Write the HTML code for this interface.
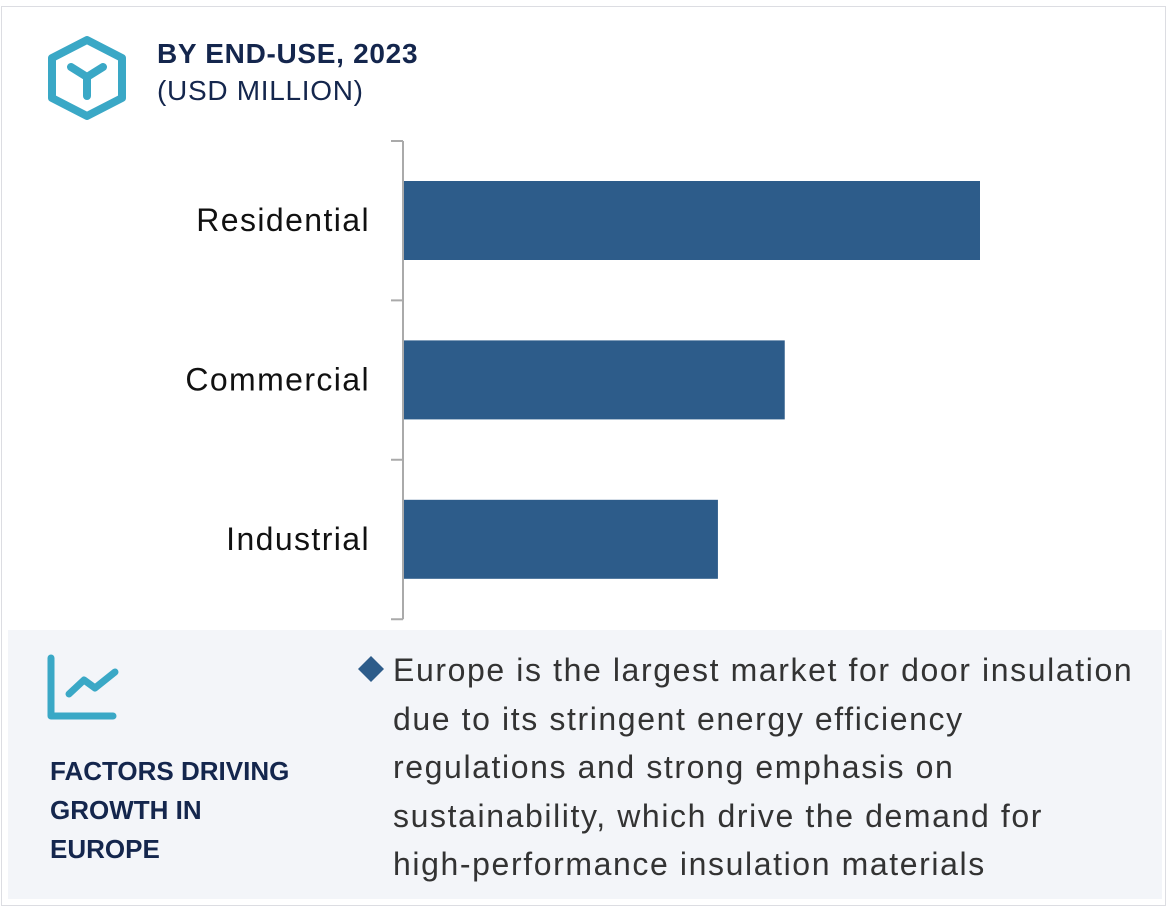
<!DOCTYPE html>
<html><head><meta charset="utf-8"><style>
body{margin:0;width:1170px;height:916px;background:#fff;font-family:"Liberation Sans",sans-serif;position:relative;overflow:hidden}
.frame{position:absolute;left:1px;top:6px;width:1165px;height:900px;border:1px solid #dcdde2;box-sizing:border-box}
.panel{position:absolute;left:8px;top:630px;width:1154px;height:269px;background:#f3f5f9}
.t1{position:absolute;left:157px;top:38px;font-size:28px;font-weight:bold;color:#14264d;letter-spacing:0.7px}
.t2{position:absolute;left:157px;top:75px;font-size:28px;color:#14264d;letter-spacing:0.7px}
.fac{position:absolute;left:50px;top:752px;font-size:26px;font-weight:bold;color:#14264d;line-height:39px}
.txt{position:absolute;left:393px;top:646px;font-size:32px;color:#333;line-height:48.5px;white-space:nowrap;letter-spacing:1.6px}
</style></head><body>
<div class="frame"></div>
<svg style="position:absolute;left:0;top:0" width="140" height="130">
<polygon points="87,40 122,58 122,98 87,116 52,98 52,58" fill="none" stroke="#3aa8c6" stroke-width="8" stroke-linejoin="round"/>
<path d="M71,67 L87,77 L103,67 M87,77 L87,96" fill="none" stroke="#3aa8c6" stroke-width="8" stroke-linecap="round" stroke-linejoin="round"/>
</svg>
<div class="t1">BY END-USE, 2023</div>
<div class="t2">(USD MILLION)</div>
<svg id="chart" style="position:absolute;left:0;top:0" width="1170" height="630"></svg>
<div class="panel"></div>
<svg style="position:absolute;left:40px;top:650px" width="90" height="80">
<path d="M11,8 L11,66 L73,66" fill="none" stroke="#3aa8c6" stroke-width="7" stroke-linecap="round" stroke-linejoin="round"/>
<path d="M29,44 L44,30 L55,38 L75,22" fill="none" stroke="#3aa8c6" stroke-width="7" stroke-linecap="round" stroke-linejoin="round"/>
</svg>
<div class="fac">FACTORS DRIVING<br>GROWTH IN<br>EUROPE</div>
<svg style="position:absolute;left:358px;top:656px" width="30" height="30"><polygon points="13,0 26,13 13,26 0,13" fill="#2d5c8a"/></svg>
<div class="txt">Europe is the largest market for door insulation<br>due to its stringent energy efficiency<br>regulations and strong emphasis on<br>sustainability, which drive the demand for<br>high-performance insulation materials</div>
<script>
const categories=["Residential","Commercial","Industrial"];
const values=[100,66.1,54.5];
const svg=document.getElementById('chart');
const NS='http://www.w3.org/2000/svg';
const x0=404,pxPer=5.76,top0=141,band=159.4;
function xs(v){return x0+v*pxPer;}
function yb(i){return top0+i*band;}
const ax=document.createElementNS(NS,'path');
let d='M403,'+top0+' L403,'+(top0+3*band);
for(let i=0;i<=3;i++)d+=' M391,'+yb(i)+' L403,'+yb(i);
ax.setAttribute('d',d);ax.setAttribute('stroke','#aaa');ax.setAttribute('stroke-width','2');ax.setAttribute('fill','none');


svg.appendChild(ax);
categories.forEach((c,i)=>{
const r=document.createElementNS(NS,'rect');
r.setAttribute('x',x0);r.setAttribute('y',yb(i)+40);r.setAttribute('width',xs(values[i])-x0);r.setAttribute('height',79);r.setAttribute('fill','#2d5c8a');


svg.appendChild(r);
const t=document.createElementNS(NS,'text');
t.setAttribute('x',370);t.setAttribute('y',yb(i)+90);t.setAttribute('text-anchor','end');t.setAttribute('font-size','32');t.setAttribute('fill','#111');t.setAttribute('font-family','Liberation Sans, sans-serif');t.setAttribute('letter-spacing','1.4');
t.textContent=c;


svg.appendChild(t);
});
</script>
</body></html>
